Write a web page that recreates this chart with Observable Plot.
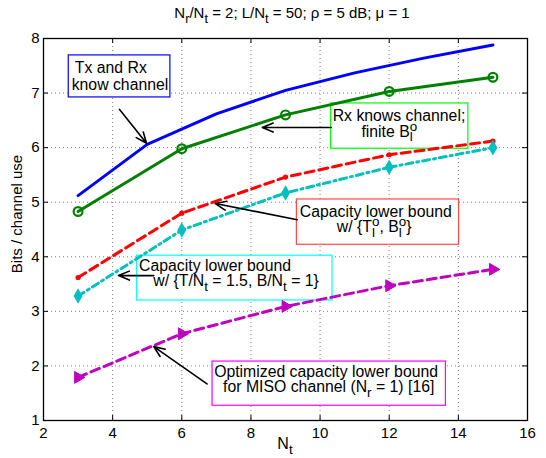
<!DOCTYPE html>
<html><head><meta charset="utf-8">
<script src="https://cdn.jsdelivr.net/npm/d3@7"></script>
<script src="https://cdn.jsdelivr.net/npm/@observablehq/plot@0.6"></script>
<style>
body{margin:0;background:#fff;}
svg text{font-family:"Liberation Sans",Arial,Helvetica,sans-serif;}
</style></head><body>
<div id="chart"></div>
<script>
// ---- data ----
const ntMarkers = [3, 6, 9, 12, 15];
const ntFull = [3, 5, 7, 9, 11, 13, 15];
const txRxKnowChannel = [5.12, 6.06, 6.62, 7.05, 7.37, 7.64, 7.88];
const rxKnowsFiniteB = [4.83, 5.98, 6.60, 7.03, 7.29];
const lowerBoundOpt = [3.62, 4.80, 5.46, 5.87, 6.12];
const lowerBoundFixed = [3.28, 4.49, 5.17, 5.64, 6.00];
const misoLowerBound = [1.79, 2.59, 3.09, 3.47, 3.77];
const xTicks = [2, 4, 6, 8, 10, 12, 14, 16];
const yTicks = [1, 2, 3, 4, 5, 6, 7, 8];

const toRows = (xs, ys) => xs.map((x, i) => ({x, y: ys[i]}));
const blue = toRows(ntFull, txRxKnowChannel);
const green = toRows(ntMarkers, rxKnowsFiniteB);
const red = toRows(ntMarkers, lowerBoundOpt);
const cyan = toRows(ntMarkers, lowerBoundFixed);
const magenta = toRows(ntMarkers, misoLowerBound);

// ---- annotation layout (data units) ----
const boxes = [
  {x1: 2.73, x2: 5.67, y1: 6.92, y2: 7.69, color: "#0000ff"},
  {x1: 10.32, x2: 14.29, y1: 5.98, y2: 6.81, color: "#00ff00"},
  {x1: 9.33, x2: 14.02, y1: 4.22, y2: 5.05, color: "#ff4848"},
  {x1: 4.71, x2: 10.36, y1: 3.20, y2: 4.02, color: "#00ffff"},
  {x1: 6.89, x2: 13.64, y1: 1.27, y2: 2.08, color: "#ff00ff"}
];
const arrows = [
  {x1: 4.20, y1: 6.70, x2: 4.98, y2: 6.08},
  {x1: 10.32, y1: 6.37, x2: 8.33, y2: 6.37},
  {x1: 9.34, y1: 4.68, x2: 6.97, y2: 4.975},
  {x1: 5.19, y1: 3.655, x2: 4.17, y2: 3.655},
  {x1: 6.73, y1: 1.67, x2: 5.19, y2: 2.354}
];
const texts = [
  {x: 2.92, y: 7.353, segs: ["Tx and Rx"]},
  {x: 2.83, y: 7.047, segs: ["know channel"]},
  {x: 10.38, y: 6.484, segs: ["Rx knows channel;"]},
  {x: 11.21, y: 6.191, segs: ["finite B", {sup: "o", sub: "l"}]},
  {x: 9.43, y: 4.724, segs: ["Capacity lower bound"]},
  {x: 10.5, y: 4.449, segs: ["w/ {T", {sup: "o", sub: "l"}, ", B", {sup: "o", sub: "l"}, "}"]},
  {x: 4.78, y: 3.734, segs: ["Capacity lower bound"]},
  {x: 5.19, y: 3.454, segs: ["w/ {T/N", {sub: "t"}, " = 1.5, B/N", {sub: "t"}, " = 1}"]},
  {x: 6.95, y: 1.780, segs: ["Optimized capacity lower bound"]},
  {x: 7.21, y: 1.516, segs: ["for MISO channel (N", {sub: "r"}, " = 1) [16]"]}
];

const triRight = {
  draw(ctx, size) {
    const s = Math.sqrt(size * 4 / Math.sqrt(3));
    const h = s * Math.sqrt(3) / 2;
    ctx.moveTo(2 * h / 3, 0);
    ctx.lineTo(-h / 3, -s / 2);
    ctx.lineTo(-h / 3, s / 2);
    ctx.closePath();
  }
};

const W = 546, H = 458, mL = 43, mR = 19, mT = 38, mB = 38;
const fw = W - mL - mR, fh = H - mT - mB;

const chart = Plot.plot({
  width: W, height: H,
  marginLeft: mL, marginRight: mR, marginTop: mT, marginBottom: mB,
  style: {fontFamily: "Liberation Sans, Arial, sans-serif", fontSize: "15px", background: "#fff", color: "#000"},
  x: {domain: [2, 16], label: null},
  y: {domain: [1, 8], label: null},
  marks: [
    Plot.gridX(xTicks.slice(1, -1), {stroke: "#000", strokeOpacity: 0.5, strokeDasharray: "1,3"}),
    Plot.gridY(yTicks.slice(1, -1), {stroke: "#000", strokeOpacity: 0.5, strokeDasharray: "1,3"}),
    ...boxes.map(b => Plot.rect([b], {x1: "x1", x2: "x2", y1: "y1", y2: "y2", fill: "white", stroke: b.color, strokeWidth: 1.2})),
    Plot.line(blue, {x: "x", y: "y", stroke: "#0000ff", strokeWidth: 3}),
    Plot.line(green, {x: "x", y: "y", stroke: "#008000", strokeWidth: 3}),
    Plot.dot(green, {x: "x", y: "y", r: 4.4, stroke: "#008000", strokeWidth: 2.2, fill: "none"}),
    Plot.line(red, {x: "x", y: "y", stroke: "#ff0000", strokeWidth: 3, strokeDasharray: "9,5"}),
    Plot.dot(red, {x: "x", y: "y", r: 2.6, fill: "#ff0000"}),
    Plot.line(cyan, {x: "x", y: "y", stroke: "#00bfbf", strokeWidth: 3, strokeDasharray: "7,4,2,4"}),
    Plot.dot(cyan, {x: "x", y: "y", symbol: "diamond", r: 3.8, fill: "#00bfbf", stroke: "#00bfbf", strokeWidth: 1.5}),
    Plot.line(magenta, {x: "x", y: "y", stroke: "#bf00bf", strokeWidth: 3, strokeDasharray: "9,5"}),
    Plot.dot(magenta, {x: "x", y: "y", symbol: triRight, r: 4.4, fill: "#bf00bf", stroke: "#bf00bf", strokeWidth: 1}),
    Plot.arrow(arrows, {x1: "x1", y1: "y1", x2: "x2", y2: "y2", stroke: "#000", strokeWidth: 1.6, headLength: 11, headAngle: 45}),
    // inward tick marks
    Plot.ruleX(xTicks.slice(1, -1), {x: d => d, insetTop: fh - 5, stroke: "#000"}),
    Plot.ruleX(xTicks.slice(1, -1), {x: d => d, insetBottom: fh - 5, stroke: "#000"}),
    Plot.ruleY(yTicks.slice(1, -1), {y: d => d, insetRight: fw - 5, stroke: "#000"}),
    Plot.ruleY(yTicks.slice(1, -1), {y: d => d, insetLeft: fw - 5, stroke: "#000"}),
    Plot.axisX(xTicks, {tickSize: 0, tickPadding: 7, fontSize: 15, label: null, tickFormat: d3.format("d")}),
    Plot.axisY(yTicks, {tickSize: 0, tickPadding: 4, fontSize: 15, label: null, tickFormat: d3.format("d")}),
    Plot.frame({stroke: "#000", strokeWidth: 1.3})
  ]
});
document.getElementById("chart").append(chart);

const sx = chart.scale("x"), sy = chart.scale("y");
const svg = d3.select(chart);

function rich(px, py, segs, fs, anchor, transform) {
  const t = svg.append("text")
    .attr("x", px).attr("y", py)
    .attr("font-size", fs).attr("fill", "#000")
    .attr("text-anchor", anchor || "start")
    .style("white-space", "pre");
  if (transform) t.attr("transform", transform);
  let shift = 0, pendDx = 0;
  const small = 0.85 * fs;
  const supUp = -0.36 * fs, subDn = 0.3 * fs;
  for (const s of segs) {
    if (typeof s === "string") {
      t.append("tspan").attr("dy", -shift).attr("dx", pendDx).text(s);
      shift = 0; pendDx = 0;
    } else if (s.sup && s.sub) {
      const a = t.append("tspan").attr("font-size", small).attr("dy", supUp - shift).attr("dx", pendDx).text(s.sup);
      shift = supUp;
      const wa = a.node().getComputedTextLength();
      const b = t.append("tspan").attr("font-size", small).attr("dx", -wa).attr("dy", subDn - shift).text(s.sub);
      shift = subDn;
      const wb = b.node().getComputedTextLength();
      pendDx = Math.max(wa, wb) - wb;
    } else if (s.sub) {
      t.append("tspan").attr("font-size", small).attr("dy", subDn - shift).attr("dx", pendDx).text(s.sub);
      shift = subDn; pendDx = 0;
    } else if (s.sup) {
      t.append("tspan").attr("font-size", small).attr("dy", supUp - shift).attr("dx", pendDx).text(s.sup);
      shift = supUp; pendDx = 0;
    }
  }
  return t;
}

for (const tx of texts) rich(sx.apply(tx.x), sy.apply(tx.y), tx.segs, 15.8);

// title and axis labels
rich(292, 18, ["N", {sub: "r"}, "/N", {sub: "t"}, " = 2; L/N", {sub: "t"}, " = 50; ρ = 5 dB; μ = 1"], 15, "middle");
rich(285, 449, ["N", {sub: "t"}], 16, "middle");
rich(0, 0, ["Bits / channel use"], 15, "middle", "translate(22,214) rotate(-90)");
</script>
</body></html>
